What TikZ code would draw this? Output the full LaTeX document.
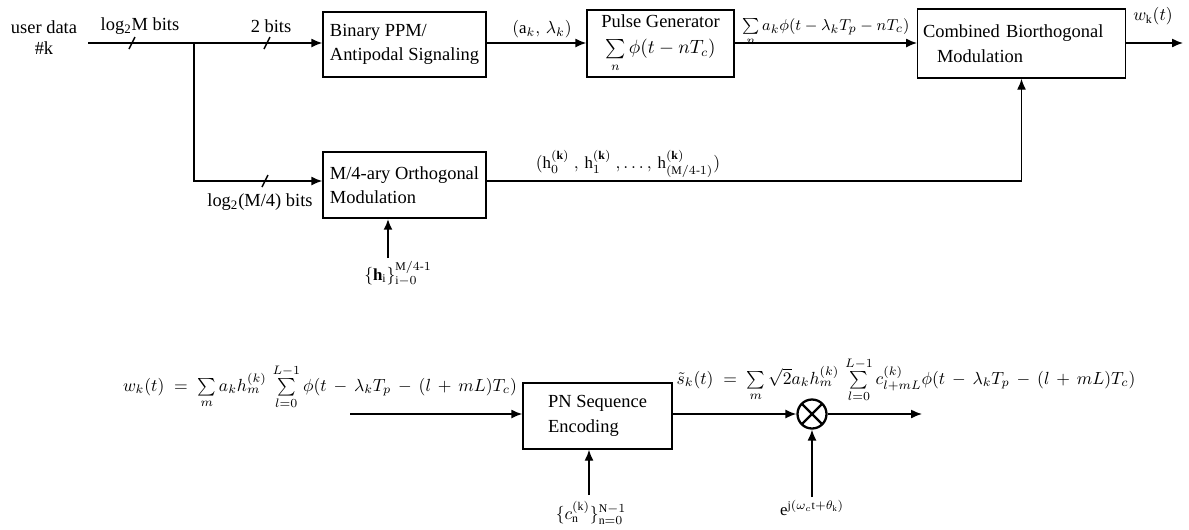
\documentclass[tikz,border=0pt]{standalone}
\usepackage{amsmath}
\usepackage{fontspec}
\setmainfont{Liberation Serif}
\usetikzlibrary{arrows.meta}
\usetikzlibrary{positioning}

\tikzset{
  block/.style={draw, line width=0.8pt, inner sep=3pt, align=left, font=\fontsize{10.5}{14}\selectfont},
  wire/.style={line width=0.8pt},
  sig/.style={line width=0.8pt, -{Latex[length=2.2mm,width=1.8mm]}},
  lbl/.style={font=\fontsize{10.5}{12}\selectfont, inner sep=1pt},
  mlbl/.style={font=\fontsize{9.6}{11}\selectfont, inner sep=1pt},
  mixer/.style={draw, circle, line width=1.3pt, minimum size=0.58cm, inner sep=0pt,
    path picture={\draw[line width=1.3pt] (path picture bounding box.north west) -- (path picture bounding box.south east)
      (path picture bounding box.north east) -- (path picture bounding box.south west);}}
}

\begin{document}
\begin{tikzpicture}[x=0.02cm, y=-0.02cm]
        \useasboundingbox (0,0) rectangle (1189,529);

        % Top row blocks
        \node[block, minimum width=3.26cm, minimum height=1.3cm] (ppm) at (404.5,44.5) {Binary PPM/\\Antipodal Signaling};
        \node[block, minimum width=2.94cm, minimum height=1.34cm, align=center, inner sep=1pt] (pulse) at (660.5,43.5) {Pulse Generator\\[1pt]$\sum\limits_{n}\phi(t-nT_c)$};
        \node[block, minimum width=4.14cm, minimum height=1.38cm, text width=3.94cm] (comb) at (1021.5,43.5) {Combined Biorthogonal\\\hspace*{0.28cm}Modulation};
        \node[block, minimum width=3.26cm, minimum height=1.32cm] (orth) at (404.5,185) {M/4-ary Orthogonal\\Modulation};

        % Input and branching
        \node[lbl, align=center] (user) at (44,38) {user data\\\#k};
        \coordinate (in) at (88,43);
        \coordinate (split) at (194,43);
        \coordinate (down) at (194,181);
        \draw[wire] (in) -- (split);
        \draw[sig] (split) -- (ppm.west |- split);
        \draw[sig] (split) -- (down) -- (orth.west |- down);

        % bus slashes
        \draw[wire] (132,43) ++(-3,6) -- ++(6,-12);
        \draw[wire] (267,43) ++(-3,6) -- ++(6,-12);
        \draw[wire] (265,181) ++(-3,6) -- ++(6,-12);
        \node[lbl] (nbits) at (140,26) {log\textsubscript{2}M bits};
        \node[lbl] (twobits) at (271,26) {2 bits};
        \node[lbl] (mbits) at (260,202) {log\textsubscript{2}(M/4) bits};

        % Top row connections
        \draw[sig] (ppm.east |- split) -- (pulse.west |- split);
        \node[mlbl] (ak) at (542,29) {$(\mathrm{a}_k,\,\lambda_k)$};
        \draw[sig] (pulse.east |- split) -- (comb.west |- split) node[mlbl, midway, above=-2pt, inner sep=0pt, font=\fontsize{9.3}{11}\selectfont] (pulsesum) {$\sum\limits_{n} a_k\phi(t-\lambda_k T_p-nT_c)$};
        \coordinate (out) at (1183,43);
        \draw[sig] (comb.east |- out) -- (out);
        \node[mlbl] (wk) at (1153,16) {$w_{\mathrm{k}}(t)$};

        % Orthogonal branch
        \draw[sig] (orth.east |- down) -- (comb.south |- down) -- (comb.south);
        \node[mlbl, anchor=south] (hseq) at (628,180) {$(\mathrm{h}_0^{(\mathbf{k})}\ ,\,\mathrm{h}_1^{(\mathbf{k})}\ ,\ldots,\,\mathrm{h}_{(\mathrm{M}/4\text{-}1)}^{(\mathbf{k})})$};
        \coordinate (hin) at (388,258);
        \draw[sig, line width=1.3pt] (hin) -- (orth.south -| hin);
        \node[mlbl] (hset) at (398,274) {$\{\mathbf{h}_{\mathrm{i}}\}_{\mathrm{i}-0}^{\mathrm{M}/4\text{-}1}$};

        % Bottom chain
        \node[block, minimum width=2.98cm, minimum height=1.32cm] (pn) at (597.5,416) {PN Sequence\\Encoding};
        \node[mixer] (mix) at (812,414) {};
        \coordinate (win) at (350,414);
        \coordinate (sout) at (922,414);
        \draw[sig] (win) -- (pn.west |- win);
        \draw[sig] (pn.east |- mix) -- (mix.west);
        \draw[sig] (mix.east) -- (sout);
        \node[mlbl, anchor=south] (weq) at (320,411) {$w_k(t)\;=\;\sum\limits_{m} a_k h_m^{(k)}\,\sum\limits_{l=0}^{L-1}\phi(t\,-\,\lambda_k T_p\,-\,(l\,+\,mL)T_c)$};
        \node[mlbl, anchor=south] (seq) at (906,404) {$\tilde{s}_k(t)\;=\;\sum\limits_{m}\sqrt{2}a_k h_m^{(k)}\,\sum\limits_{l=0}^{L-1} c_{l+mL}^{(k)}\phi(t\,-\,\lambda_k T_p\,-\,(l\,+\,mL)T_c)$};

        \coordinate (cin) at (589,495);
        \coordinate (ein) at (812,497);
        \draw[sig] (cin) -- (pn.south -| cin);
        \draw[sig] (ein) -- (mix.south);
        \node[mlbl] (cset) at (591,513) {$\{c_{\mathrm{n}}^{(\mathrm{k})}\}_{\mathrm{n}=0}^{\mathrm{N}-1}$};
        \node[mlbl] (carrier) at (812,508) {$\mathrm{e}^{\mathrm{j}(\omega_c\mathrm{t}+\theta_{\mathrm{k}})}$};
    \end{tikzpicture}
\end{document}
